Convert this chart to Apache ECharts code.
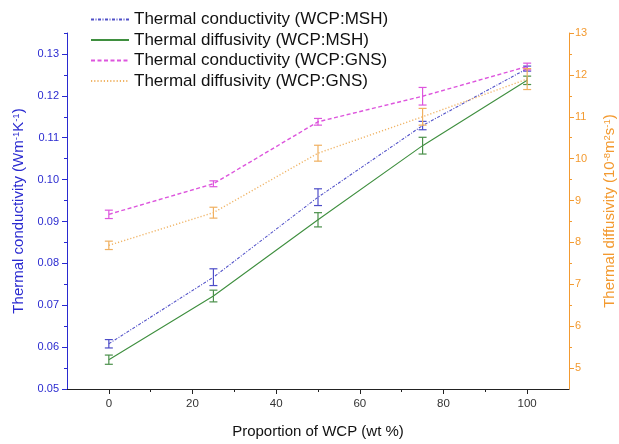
<!DOCTYPE html>
<html>
<head>
<meta charset="utf-8">
<script src="https://cdn.jsdelivr.net/npm/echarts@6/dist/echarts.min.js"></script>
<style>
  html, body { margin: 0; padding: 0; background: #fff; }
  #main { width: 619px; height: 444px; }
</style>
</head>
<body>
<div id="main"></div>
<script>
// x values: proportion of WCP (wt %)
var wcp = [0, 25, 50, 75, 100];

// thermal conductivity (W/mK), left axis
var tcMSH = [0.0608, 0.0767, 0.0958, 0.1129, 0.1265];
var tcMSHErr = [0.001, 0.002, 0.002, 0.001, 0.0006];
var tcGNS = [0.0917, 0.0990, 0.1138, 0.1199, 0.1270];
var tcGNSErr = [0.001, 0.0007, 0.0008, 0.0021, 0.0008];

// thermal diffusivity (1e-8 m2/s), right axis
var tdMSH = [5.20, 6.72, 8.54, 10.31, 11.87];
var tdMSHErr = [0.11, 0.14, 0.17, 0.2, 0.1];
var tdGNS = [7.93, 8.71, 10.13, 11.0, 11.9];
var tdGNSErr = [0.1, 0.13, 0.19, 0.2, 0.25];

// tick labels
var xTicks = [0, 20, 40, 60, 80, 100];
var xMinor = [10, 30, 50, 70, 90];
var leftTicks = [0.05, 0.06, 0.07, 0.08, 0.09, 0.10, 0.11, 0.12, 0.13];
var leftMinor = [0.055, 0.065, 0.075, 0.085, 0.095, 0.105, 0.115, 0.125, 0.135];
var rightTicks = [5, 6, 7, 8, 9, 10, 11, 12, 13];
var rightMinor = [5.5, 6.5, 7.5, 8.5, 9.5, 10.5, 11.5, 12.5];

var FONT = 'Liberation Sans, Arial, sans-serif';
var BLUE = '#2a2ad0';
var ORANGE = '#f39a30';

function pairs(ys) {
    return wcp.map(function (x, i) { return [x, ys[i]]; });
}

function errData(ys, errs) {
    return wcp.map(function (x, i) { return [x, ys[i] - errs[i], ys[i] + errs[i]]; });
}

function errorBars(ys, errs, yIdx, color) {
    return {
        type: 'custom',
        yAxisIndex: yIdx,
        data: errData(ys, errs),
        z: 3,
        renderItem: function (params, api) {
            var lo = api.coord([api.value(0), api.value(1)]);
            var hi = api.coord([api.value(0), api.value(2)]);
            var w = 4;
            var st = { stroke: color, lineWidth: 1.2 };
            return {
                type: 'group',
                children: [
                    { type: 'line', shape: { x1: lo[0], y1: lo[1], x2: hi[0], y2: hi[1] }, style: st },
                    { type: 'line', shape: { x1: lo[0] - w, y1: lo[1], x2: lo[0] + w, y2: lo[1] }, style: st },
                    { type: 'line', shape: { x1: hi[0] - w, y1: hi[1], x2: hi[0] + w, y2: hi[1] }, style: st }
                ]
            };
        }
    };
}

function line(name, ys, yIdx, color, type, width) {
    return {
        name: name,
        type: 'line',
        yAxisIndex: yIdx,
        data: pairs(ys),
        symbol: 'none',
        lineStyle: { color: color, type: type, width: width },
        itemStyle: { color: color },
        z: 2
    };
}

// helpers for the extra axes that only carry minor ticks
function minorX(values) {
    return {
        type: 'value', min: -10, max: 110, position: 'bottom',
        splitLine: { show: false },
        axisLine: { show: false, onZero: false },
        axisTick: { customValues: values, length: 3, lineStyle: { color: '#222' } },
        axisLabel: { show: false }
    };
}

function minorY(pos, min, max, values, color) {
    return {
        type: 'value', position: pos, min: min, max: max,
        splitLine: { show: false },
        axisLine: { show: false, onZero: false },
        axisTick: { customValues: values, length: 3, lineStyle: { color: color } },
        axisLabel: { show: false }
    };
}

var chart = echarts.init(document.getElementById('main'));

var supStyle = { fontSize: 9.5, fontFamily: FONT, verticalAlign: 'top' };

var option = {
    animation: false,
    textStyle: { fontFamily: FONT },
    grid: { left: 67, right: 50, top: 33, bottom: 55, outerBoundsMode: 'none', containLabel: false },
    legend: {
        orient: 'vertical',
        left: 85,
        top: 6,
        itemWidth: 38,
        itemHeight: 10,
        itemGap: 3.5,
        itemStyle: { opacity: 0 },
        textStyle: { fontSize: 17, color: '#111', fontFamily: FONT },
        data: [
            'Thermal conductivity (WCP:MSH)',
            'Thermal diffusivity (WCP:MSH)',
            'Thermal conductivity (WCP:GNS)',
            'Thermal diffusivity (WCP:GNS)'
        ]
    },
    xAxis: [{
        type: 'value',
        min: -10,
        max: 110,
        name: 'Proportion of WCP (wt %)',
        nameLocation: 'middle',
        nameGap: 35,
        nameTextStyle: { fontSize: 15, color: '#111' },
        splitLine: { show: false },
        axisLine: { onZero: false, lineStyle: { color: '#222', width: 1 } },
        axisTick: { customValues: xTicks, length: 5, lineStyle: { color: '#222' } },
        axisLabel: { customValues: xTicks, fontSize: 11.5, color: '#333', margin: 9 }
    }, minorX(xMinor)],
    yAxis: [{
        type: 'value',
        position: 'left',
        min: 0.05,
        max: 0.135,
        name: 'Thermal conductivity (Wm{s|-1}K{s|-1})',
        nameLocation: 'middle',
        nameGap: 41,
        nameTextStyle: { fontSize: 15, color: BLUE, rich: { s: supStyle } },
        splitLine: { show: false },
        axisLine: { show: true, onZero: false, lineStyle: { color: BLUE, width: 1 } },
        axisTick: { customValues: leftTicks, length: 5, lineStyle: { color: BLUE } },
        axisLabel: {
            customValues: leftTicks, fontSize: 11, color: BLUE, margin: 8,
            formatter: function (v) { return v.toFixed(2); }
        }
    }, {
        type: 'value',
        position: 'right',
        min: 4.5,
        max: 13,
        name: 'Thermal diffusivity (10{s|-8}m{s|2}s{s|-1})',
        nameLocation: 'middle',
        nameGap: 33,
        nameRotate: 90,
        nameTextStyle: { fontSize: 15, color: ORANGE, rich: { s: supStyle } },
        splitLine: { show: false },
        axisLine: { show: true, onZero: false, lineStyle: { color: ORANGE, width: 1 } },
        axisTick: { customValues: rightTicks, length: 5, lineStyle: { color: ORANGE } },
        axisLabel: { customValues: rightTicks, fontSize: 11, color: ORANGE, margin: 6 }
    },
        minorY('left', 0.05, 0.135, leftMinor, BLUE),
        minorY('right', 4.5, 13, rightMinor, ORANGE)
    ],
    series: [
        line('Thermal conductivity (WCP:MSH)', tcMSH, 0, '#5050c8', [3, 1.5, 1, 1.5], 1.1),
        line('Thermal diffusivity (WCP:MSH)', tdMSH, 1, '#3f8f3f', 'solid', 1.1),
        line('Thermal conductivity (WCP:GNS)', tcGNS, 0, '#dd55dd', [4, 2.5], 1.4),
        line('Thermal diffusivity (WCP:GNS)', tdGNS, 1, '#f0b466', [1.2, 2], 1.4),
        errorBars(tcMSH, tcMSHErr, 0, '#4d4dc8'),
        errorBars(tdMSH, tdMSHErr, 1, '#4a904a'),
        errorBars(tcGNS, tcGNSErr, 0, '#dd55dd'),
        errorBars(tdGNS, tdGNSErr, 1, '#f0b060')
    ]
};

chart.setOption(option);
</script>
</body>
</html>
